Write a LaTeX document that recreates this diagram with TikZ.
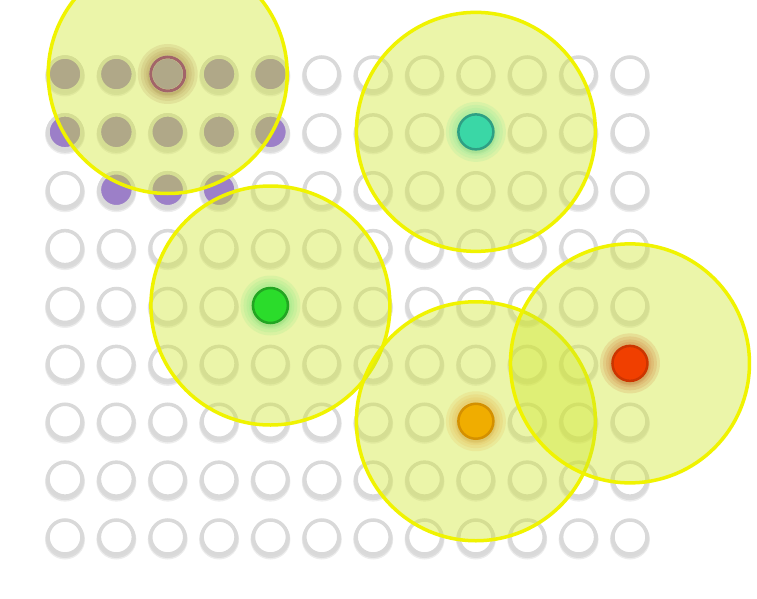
\documentclass[tikz,border=0pt]{standalone}
\usetikzlibrary{calc}
\definecolor{ringgray}{HTML}{D9D9D9}
\definecolor{purp}{HTML}{9C7FC8}
\definecolor{yfill}{RGB}{207,230,42}
\definecolor{ystroke}{HTML}{F0F300}
\definecolor{tealf}{HTML}{3AD7A6}\definecolor{tealr}{HTML}{2E9F84}\definecolor{tealg}{HTML}{7FE89A}
\definecolor{grnf}{HTML}{2BDC2B}\definecolor{grnr}{HTML}{22A522}\definecolor{grng}{HTML}{7FE87F}
\definecolor{orf}{HTML}{F0AD00}\definecolor{orr}{HTML}{D49000}\definecolor{org}{HTML}{E8B040}
\definecolor{redf}{HTML}{F03F00}\definecolor{redr}{HTML}{CC3500}\definecolor{redg}{HTML}{D07030}
\definecolor{mauve}{HTML}{9A4F62}
\tikzset{
  shadowdot/.style={fill=black, fill opacity=0.07, draw=none},
  emptydot/.style={fill=white, draw=ringgray, line width=3.5pt},
  purpledot/.style={fill=purp, draw=ringgray, line width=3.5pt},
  lens/.style={fill=yfill, fill opacity=0.4, draw=ystroke, line width=3.5pt},
  glowdot/.style={fill=#1, fill opacity=0.16, draw=none},
}
\newcommand{\gx}[1]{65+51.36*#1}
\newcommand{\gy}[1]{74+57.875*#1}
\newcommand{\colordot}[5]{% col,row,fill,ring,glow
  \foreach \rr in {30,27,24,21.5}{\fill[glowdot=#5] ({\gx{#1}},{\gy{#2}}) circle (\rr);}
  \path[fill=#3, draw=#4, line width=2.5pt] ({\gx{#1}},{\gy{#2}}) circle (17.5);
}
\begin{document}
\begin{tikzpicture}[x=1pt,y=-1pt]
\useasboundingbox (0,0) rectangle (757,599);
\fill[white] (0,0) rectangle (757,599);
% grid dots
\foreach \c in {0,...,11}{
  \foreach \r in {0,...,8}{
    \fill[shadowdot] ({\gx{\c}},{\gy{\r}+2.5}) circle (20);
    \fill[shadowdot] ({\gx{\c}},{\gy{\r}+1.5}) circle (19.5);
    \path[emptydot] ({\gx{\c}},{\gy{\r}}) circle (17);
  }
}
% purple dots
\foreach \c/\r in {0/0,1/0,3/0,4/0,0/1,1/1,2/1,3/1,4/1,1/2,2/2,3/2}{
  \path[purpledot] ({\gx{\c}},{\gy{\r}}) circle (17);
}
% highlighted purple dot
\foreach \rr in {30,27,24,21.5}{\fill[glowdot=mauve] ({\gx{2}},{\gy{0}}) circle (\rr);}
\path[fill=purp, draw=ringgray, line width=3.5pt] ({\gx{2}},{\gy{0}}) circle (17);
% yellow circles
\node[coordinate] (c1) at ({\gx{2}},{\gy{0}}) {};
\node[coordinate] (c2) at ({\gx{8}},{\gy{1}}) {};
\node[coordinate] (c3) at ({\gx{4}},{\gy{4}}) {};
\node[coordinate] (c4) at ({\gx{8}},{\gy{6}}) {};
\node[coordinate] (c5) at ({\gx{11}},{\gy{5}}) {};
\foreach \n in {c1,c2,c3,c4,c5}{
  \path[lens] (\n) circle (119.5);
}
% ring of highlighted dot
\draw[mauve, line width=3pt, opacity=0.85] (c1) circle (17);
% colored dots
\colordot{8}{1}{tealf}{tealr}{tealg}
\colordot{4}{4}{grnf}{grnr}{grng}
\colordot{8}{6}{orf}{orr}{org}
\colordot{11}{5}{redf}{redr}{redg}
\end{tikzpicture}
\end{document}
